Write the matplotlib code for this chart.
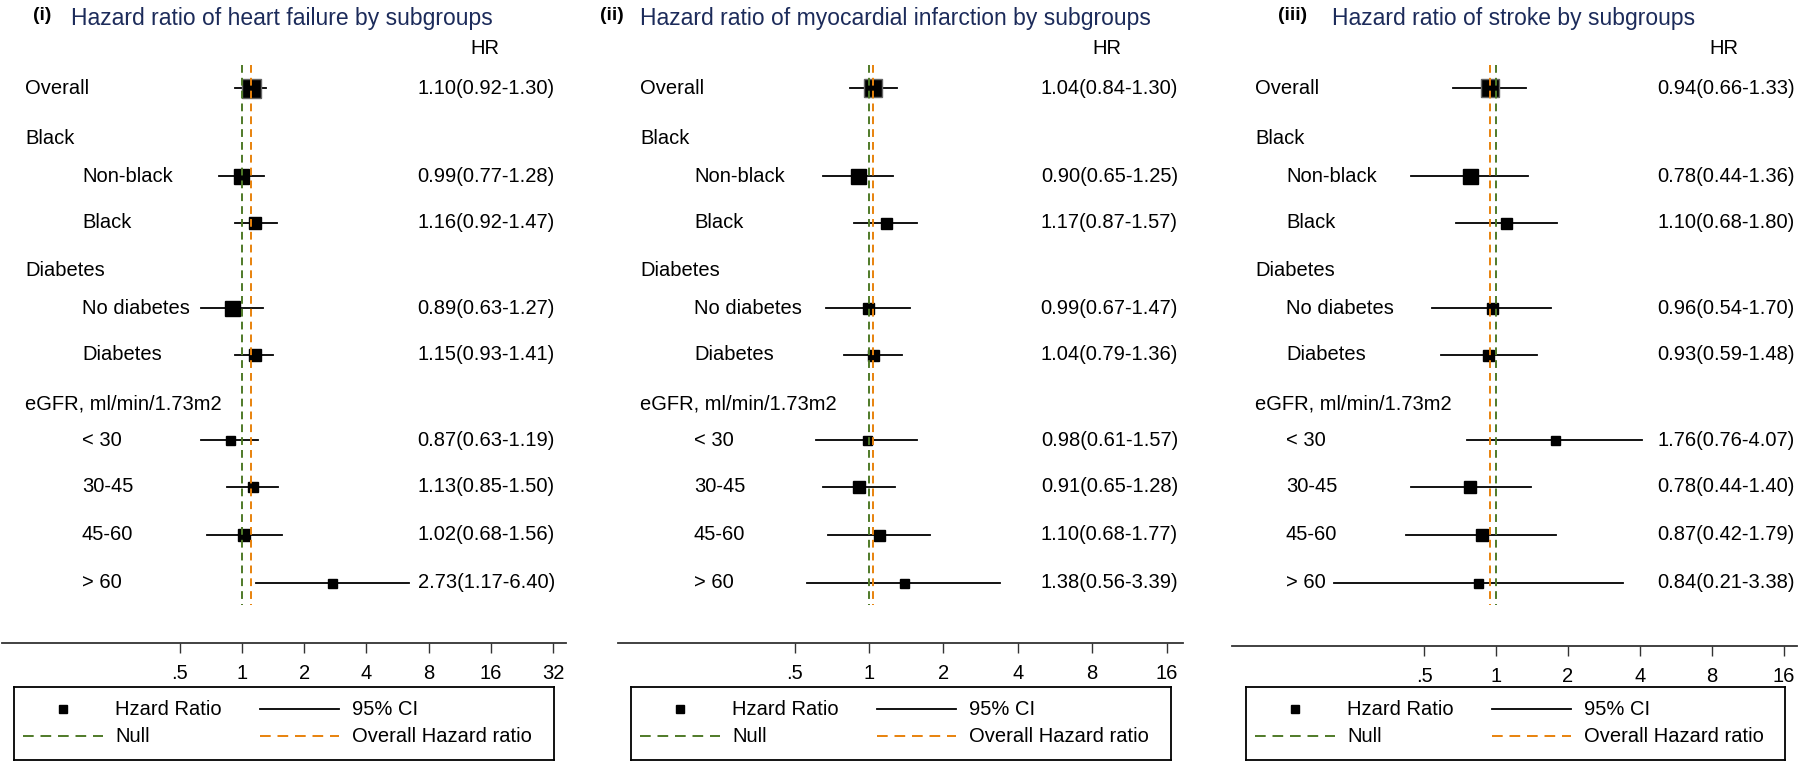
import matplotlib
matplotlib.use("Agg")
import matplotlib.pyplot as plt
from matplotlib.lines import Line2D

plt.rcParams["font.family"] = ["Liberation Sans", "DejaVu Sans"]

# ---- data ----
row_labels = ["Overall", "Black", "Non-black", "Black", "Diabetes", "No diabetes",
              "Diabetes", "eGFR, ml/min/1.73m2", "< 30", "30-45", "45-60", "> 60"]
is_header = [False, True, False, False, True, False, False, True, False, False, False, False]

hf_hr = [1.10, 0.99, 1.16, 0.89, 1.15, 0.87, 1.13, 1.02, 2.73]
hf_lo = [0.92, 0.77, 0.92, 0.63, 0.93, 0.63, 0.85, 0.68, 1.17]
hf_hi = [1.30, 1.28, 1.47, 1.27, 1.41, 1.19, 1.50, 1.56, 6.40]
hf_wt = [19, 15, 12, 15, 12, 9, 10, 12, 9]

mi_hr = [1.04, 0.90, 1.17, 0.99, 1.04, 0.98, 0.91, 1.10, 1.38]
mi_lo = [0.84, 0.65, 0.87, 0.67, 0.79, 0.61, 0.65, 0.68, 0.56]
mi_hi = [1.30, 1.25, 1.57, 1.47, 1.36, 1.57, 1.28, 1.77, 3.39]
mi_wt = [18, 15, 11, 11, 11, 9, 12, 11, 9]

st_hr = [0.94, 0.78, 1.10, 0.96, 0.93, 1.76, 0.78, 0.87, 0.84]
st_lo = [0.66, 0.44, 0.68, 0.54, 0.59, 0.76, 0.44, 0.42, 0.21]
st_hi = [1.33, 1.36, 1.80, 1.70, 1.48, 4.07, 1.40, 1.79, 3.38]
st_wt = [18, 15, 11, 11, 11, 9, 12, 12, 9]

tags = ["(i)", "(ii)", "(iii)"]
titles = ["Hazard ratio of heart failure by subgroups",
          "Hazard ratio of myocardial infarction by subgroups",
          "Hazard ratio of stroke by subgroups"]
tick_vals = [[0.5, 1, 2, 4, 8, 16, 32], [0.5, 1, 2, 4, 8, 16], [0.5, 1, 2, 4, 8, 16]]
tick_text = [[".5", "1", "2", "4", "8", "16", "32"], [".5", "1", "2", "4", "8", "16"],
             [".5", "1", "2", "4", "8", "16"]]
legend_labels = ["Hzard Ratio", "95% CI", "Null", "Overall Hazard ratio"]

# ---- layout (pixels of the 1800x762 canvas) ----
W, H = 1800, 762
row_y = [88, 138, 176, 223, 271, 308, 355, 404, 440, 487, 535, 583]
layout = [
    dict(x0=2, x1=566, one=242, dbl=62.2, axis_y=643, tag_x=33, title_x=71, lab_x=25,
         ind_x=82, val_x=555, hr_x=485, box=(14, 554)),
    dict(x0=618, x1=1183, one=869, dbl=74.4, axis_y=643, tag_x=600, title_x=640, lab_x=640,
         ind_x=694, val_x=1178, hr_x=1107, box=(631, 1171)),
    dict(x0=1232, x1=1797, one=1496, dbl=72.0, axis_y=646, tag_x=1278, title_x=1332, lab_x=1255,
         ind_x=1286, val_x=1795, hr_x=1724, box=(1246, 1785)),
]

GREEN = "#4f7a28"
ORANGE = "#e8820c"
NAVY = "#1c2b5a"
FS = 14.5

fig = plt.figure(figsize=(W / 100, H / 100), dpi=100)


def fx(x):
    return x / W


def fy(y):
    return 1 - y / H


series = [(hf_hr, hf_lo, hf_hi, hf_wt), (mi_hr, mi_lo, mi_hi, mi_wt), (st_hr, st_lo, st_hi, st_wt)]

for p, (hr, lo, hi, wt) in enumerate(series):
    L = layout[p]
    ax = fig.add_axes([fx(L["x0"]), fy(L["axis_y"]), fx(L["x1"] - L["x0"]), L["axis_y"] / H])
    ax.patch.set_alpha(0)
    ax.set_xscale("log", base=2)
    ax.set_xlim(2 ** ((L["x0"] - L["one"]) / L["dbl"]), 2 ** ((L["x1"] - L["one"]) / L["dbl"]))
    ax.set_ylim(L["axis_y"], 0)
    for s in ["top", "left", "right"]:
        ax.spines[s].set_visible(False)
    ax.spines["bottom"].set_linewidth(1.3)
    ax.spines["bottom"].set_color("#333333")
    ax.set_yticks([])
    ax.set_xticks(tick_vals[p])
    ax.set_xticklabels(tick_text[p])
    ax.minorticks_off()
    ax.tick_params(axis="x", length=7, width=1, pad=8, labelsize=FS, color="#333333")

    # subgroup rows (header rows carry no estimate)
    data_rows = [y for y, h in zip(row_y, is_header) if not h]
    for i, y in enumerate(data_rows):
        ax.plot([lo[i], hi[i]], [y, y], color="black", lw=1.3, zorder=2)
        ax.plot(hr[i], y, marker="s", ms=wt[i] * 0.72, color="black",
                mec="#666666" if i == 0 else "black", mew=1, zorder=3)
        fig.text(fx(L["val_x"]), fy(y), f"{hr[i]:.2f}({lo[i]:.2f}-{hi[i]:.2f})",
                 ha="right", va="center", fontsize=FS)

    # reference lines
    ax.plot([1, 1], [65, 605], color=GREEN, lw=1.4, ls=(0, (4, 2.6)), zorder=4)
    ax.plot([hr[0], hr[0]], [65, 605], color=ORANGE, lw=1.4, ls=(0, (4, 2.6)), zorder=4)

    # row labels
    for y, lab, h in zip(row_y, row_labels, is_header):
        x = L["lab_x"] if (h or lab == "Overall") else L["ind_x"]
        fig.text(fx(x), fy(y), lab, ha="left", va="center", fontsize=FS)

    fig.text(fx(L["tag_x"]), fy(15), tags[p], ha="left", va="center", fontsize=14,
             fontweight="bold")
    fig.text(fx(L["title_x"]), fy(18), titles[p], ha="left", va="center", fontsize=16.5,
             color=NAVY)
    fig.text(fx(L["hr_x"]), fy(48), "HR", ha="center", va="center", fontsize=FS)

    # legend box
    bx0, bx1 = L["box"]
    lax = fig.add_axes([fx(bx0), fy(760), fx(bx1 - bx0), (760 - 687) / H])
    lax.set_xlim(bx0, bx1)
    lax.set_ylim(760, 687)
    lax.set_xticks([])
    lax.set_yticks([])
    for s in lax.spines.values():
        s.set_linewidth(1.3)
    r1, r2 = 709, 736
    lax.plot([bx0 + 49], [r1], marker="s", ms=6, color="black")
    lax.plot([bx0 + 246, bx0 + 325], [r1, r1], color="black", lw=1.3)
    lax.plot([bx0 + 9, bx0 + 89], [r2, r2], color=GREEN, lw=1.4, ls=(0, (5.5, 3.5)))
    lax.plot([bx0 + 246, bx0 + 325], [r2, r2], color=ORANGE, lw=1.4, ls=(0, (5.5, 3.5)))
    for tx, ty, t in [(bx0 + 101, r1, legend_labels[0]), (bx0 + 338, r1, legend_labels[1]),
                      (bx0 + 101, r2, legend_labels[2]), (bx0 + 338, r2, legend_labels[3])]:
        lax.text(tx, ty, t, ha="left", va="center", fontsize=FS)

fig.savefig("out.png", dpi=100)
